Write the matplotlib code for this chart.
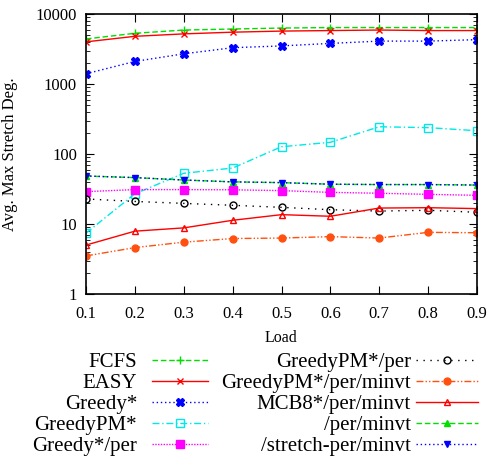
import matplotlib
matplotlib.use("Agg")
import matplotlib.pyplot as plt
from matplotlib.lines import Line2D
from matplotlib.ticker import LogLocator, FixedLocator, NullFormatter

load = [0.1, 0.2, 0.3, 0.4, 0.5, 0.6, 0.7, 0.8, 0.9]
fcfs = [4400, 5300, 5900, 6100, 6300, 6400, 6400, 6400, 6400]
easy = [4000, 4800, 5200, 5500, 5700, 5800, 5900, 5800, 5800]
greedy = [1400, 2100, 2700, 3300, 3500, 3800, 4100, 4100, 4300]
greedypm = [7.4, 27, 53, 63, 127, 147, 245, 238, 215]
greedy_per = [29, 31, 31, 30.8, 30, 28.3, 27.5, 26.5, 25.7]
greedypm_per = [22.8, 21, 19.7, 18.5, 17.3, 16, 15.3, 15.7, 14.7]
greedypm_per_minvt = [3.5, 4.6, 5.5, 6.2, 6.3, 6.6, 6.3, 7.6, 7.5]
mcb8_per_minvt = [5.0, 7.9, 8.8, 11.3, 13.6, 12.9, 16.9, 17.1, 16.6]
per_minvt = [48.5, 46, 42.5, 40, 39, 37, 36.6, 36.6, 36]
stretch_per_minvt = [48.5, 46, 42.5, 40, 39, 37, 36.6, 36.6, 36]

labels = ["FCFS", "EASY", "Greedy*", "GreedyPM*", "Greedy*/per",
          "GreedyPM*/per", "GreedyPM*/per/minvt", "MCB8*/per/minvt",
          "/per/minvt", "/stretch-per/minvt"]
series = [fcfs, easy, greedy, greedypm, greedy_per, greedypm_per,
          greedypm_per_minvt, mcb8_per_minvt, per_minvt, stretch_per_minvt]

styles = [
    dict(color="#00e000", ls=(0, (4, 2)), marker="+", mfc="none", ms=6),
    dict(color="#ff0000", ls="-", marker="x", mfc="none", ms=5),
    dict(color="#0000ff", ls=(0, (1, 2)), marker="X", mfc="#0000ff", ms=6),
    dict(color="#00e8e8", ls=(0, (5, 2, 1, 2)), marker="s", mfc="none", ms=6),
    dict(color="#ff00ff", ls=(0, (1, 1)), marker="s", mfc="#ff00ff", ms=6),
    dict(color="#000000", ls=(0, (1, 4)), marker="o", mfc="none", ms=5),
    dict(color="#ff5010", ls=(0, (5, 1.5, 1, 1.5, 1, 1.5)), marker="o", mfc="#ff5010", ms=5),
    dict(color="#ff0000", ls="-", marker="^", mfc="none", ms=5),
    dict(color="#00e000", ls=(0, (4, 2)), marker="^", mfc="#00e000", ms=4),
    dict(color="#0000ff", ls=(0, (1, 2)), marker="v", mfc="#0000ff", ms=5),
]

plt.rcParams["font.family"] = ["Liberation Serif", "DejaVu Serif"]
fig = plt.figure(figsize=(4.88, 4.57), dpi=100)
ax = fig.add_axes([86/488, 1-294/457, (477-86)/488, (294-14)/457])

for y, st in zip(series, styles):
    ax.plot(load, y, color=st["color"], ls=st["ls"], lw=1.0, marker=st["marker"],
            mfc=st["mfc"], mec=st["color"], ms=st["ms"], mew=1.0)

ax.set_yscale("log")
ax.set_ylim(1, 10000)
ax.set_xlim(0.1, 0.9)
ax.xaxis.set_major_locator(FixedLocator(load))
ax.set_xticklabels([f"{v:.1f}" for v in load])
ax.yaxis.set_major_locator(FixedLocator([1, 10, 100, 1000, 10000]))
ax.set_yticklabels(["1", "10", "100", "1000", "10000"])
ax.yaxis.set_minor_locator(LogLocator(base=10, subs=range(2, 10)))
ax.yaxis.set_minor_formatter(NullFormatter())
ax.tick_params(which="both", direction="in", top=True, right=True, labelsize=12)
ax.tick_params(which="major", length=6, width=0.8)
ax.tick_params(which="minor", length=3, width=0.6)
ax.tick_params(axis="x", pad=9)
ax.tick_params(axis="y", pad=6.5)
for s in ax.spines.values():
    s.set_linewidth(1.2)
ax.set_ylabel("Avg. Max Stretch Deg.", fontsize=12)
ax.yaxis.set_label_coords((18.5 - 86) / 391, 0.5)
fig.text(281/488, 1-338/457, "Load", ha="center", va="center", fontsize=11.5)

# manual gnuplot-style legend
rows = [360, 381, 402, 423, 444]
cols = [(137, 152, 208), (411, 416, 478)]
for i, (lab, st) in enumerate(zip(labels, styles)):
    c = cols[i // 5]
    yy = 1 - rows[i % 5] / 457
    fig.text(c[0]/488, yy, lab, ha="right", va="center_baseline", fontsize=15)
    fig.add_artist(Line2D([c[1]/488, c[2]/488], [yy, yy], color=st["color"],
                          ls=st["ls"], lw=1.0, transform=fig.transFigure))
    fig.add_artist(Line2D([(c[1]+c[2])/2/488], [yy], color=st["color"], ls="none",
                          marker=st["marker"], mfc=st["mfc"], mec=st["color"],
                          ms=st["ms"], mew=1.0, transform=fig.transFigure))

fig.savefig("out.png", dpi=100)
